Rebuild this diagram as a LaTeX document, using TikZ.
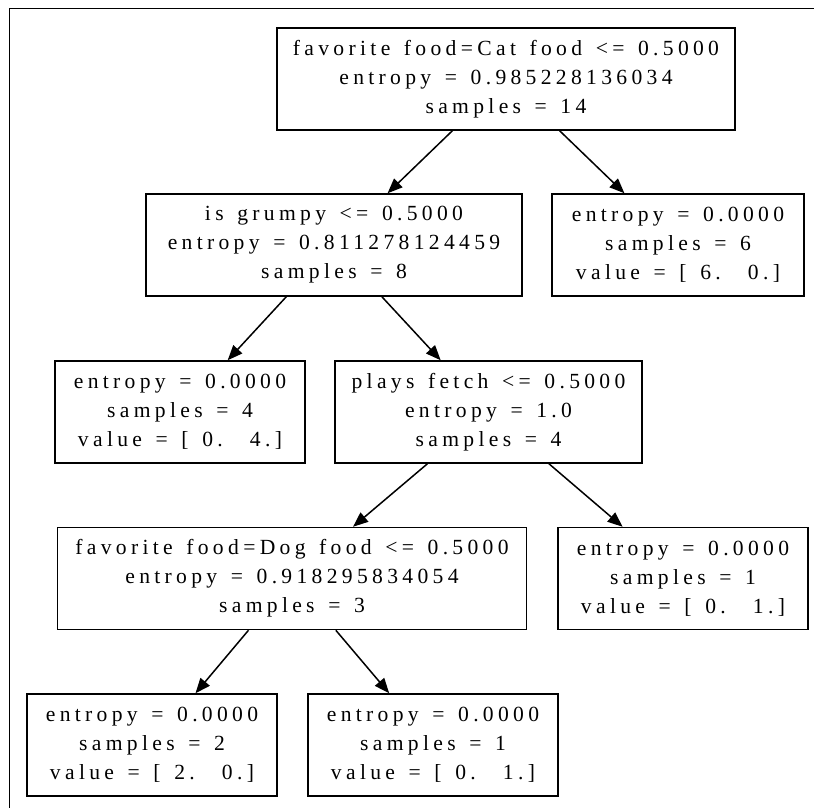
\documentclass[tikz,border=0pt]{standalone}
\usepackage{fontspec}
\setmainfont[LetterSpace=20, WordSpace=1.4]{Liberation Serif}
\usepackage{tikz}
\usetikzlibrary{arrows.meta, positioning}

\begin{document}
\begin{tikzpicture}[
    x=0.5pt, y=-0.5pt,
    treenode/.style={draw, line width=0.75pt, inner sep=0pt, minimum width=125pt, minimum height=51pt, font=\fontsize{10.8}{14.5}\selectfont, align=center},
    arrow/.style={-{Triangle[length=7.5pt, width=6pt]}, line width=0.75pt}
]
    \useasboundingbox (0,0) rectangle (814,808);
    % Frame
    \draw[line width=0.9pt] (814,8.5) -- (9.5,8.5) -- (9.5,808);

    % Root split
    \node[treenode, minimum width=229pt] (catfood) at (506,79) {favorite food=Cat food <= 0.5000\\entropy = 0.985228136034\\samples = 14};

    % Second level
    \node[treenode, minimum width=188pt] (grumpy) at (334,245) {is grumpy <= 0.5000\\entropy = 0.811278124459\\samples = 8};
    \node[treenode, minimum width=126pt] (leafsix) at (678,245) {entropy = 0.0000\\samples = 6\\value = [ 6.\ \ 0.]};

    % Third level
    \node[treenode] (leaffour) at (180,412) {entropy = 0.0000\\samples = 4\\value = [ 0.\ \ 4.]};
    \node[treenode, minimum width=153.5pt] (fetch) at (488.5,412) {plays fetch <= 0.5000\\entropy = 1.0\\samples = 4};

    % Fourth level
    \node[treenode, minimum width=234.5pt] (dogfood) at (292,578.5) {favorite food=Dog food <= 0.5000\\entropy = 0.918295834054\\samples = 3};
    \node[treenode] (leafone) at (683,578.5) {entropy = 0.0000\\samples = 1\\value = [ 0.\ \ 1.]};

    % Leaves
    \node[treenode] (leaftwo) at (152,745) {entropy = 0.0000\\samples = 2\\value = [ 2.\ \ 0.]};
    \node[treenode] (leafonebis) at (433,745) {entropy = 0.0000\\samples = 1\\value = [ 0.\ \ 1.]};

    % Connections
    \draw[arrow] (catfood) -- (grumpy);
    \draw[arrow] (catfood) -- (leafsix);
    \draw[arrow] (grumpy) -- (leaffour);
    \draw[arrow] (grumpy) -- (fetch);
    \draw[arrow] (fetch) -- (dogfood);
    \draw[arrow] (fetch) -- (leafone);
    \draw[arrow] (dogfood) -- (leaftwo);
    \draw[arrow] (dogfood) -- (leafonebis);
\end{tikzpicture}
\end{document}
